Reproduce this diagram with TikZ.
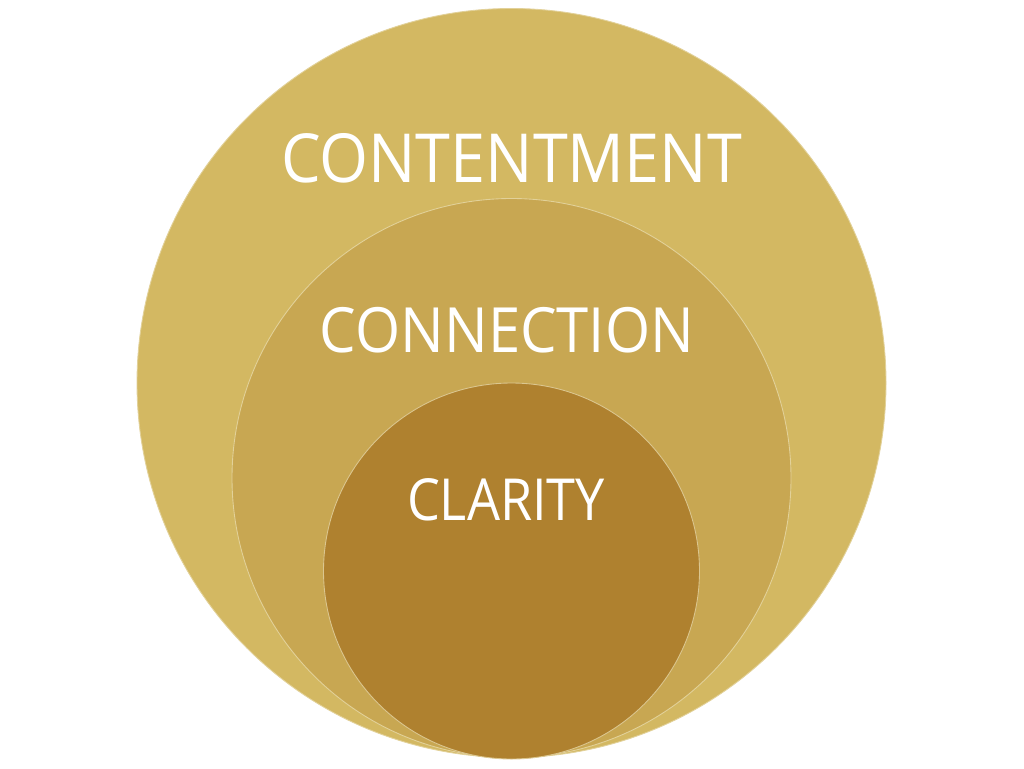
\documentclass[tikz,border=0pt]{standalone}
\usepackage{fontspec}
\setmainfont{Open Sans}
\definecolor{outerc}{HTML}{D3B862}
\definecolor{midc}{HTML}{C8A752}
\definecolor{innerc}{HTML}{AF812F}
\tikzset{
  ring/.style={draw=white!35!#1, line width=0.5pt},
  lbl/.style={text=white, inner sep=0pt, anchor=base, transform shape}
}
\begin{document}
\begin{tikzpicture}[x=0.02cm, y=-0.02cm]
\useasboundingbox (0,0) rectangle (1024,768);
\fill[white] (0,0) rectangle (1024,768);
\path[fill=outerc, ring=outerc] (511.5,383) circle (374.5*0.02cm);
\path[fill=midc, ring=outerc] (511.5,478) circle (279.5*0.02cm);
\path[fill=innerc, ring=midc] (511.5,571) circle (188*0.02cm);
\node[lbl, xscale=0.93, font=\fontsize{38.5}{38.5}\selectfont] (t1) at (511.5,182) {CONTENTMENT};
\node[lbl, xscale=0.93, font=\fontsize{35.5}{35.5}\selectfont] (t2) at (507,352) {CONNECTION};
\node[lbl, xscale=0.9, font=\fontsize{33}{33}\selectfont] (t3) at (506,520) {CLARITY};
\end{tikzpicture}
\end{document}
